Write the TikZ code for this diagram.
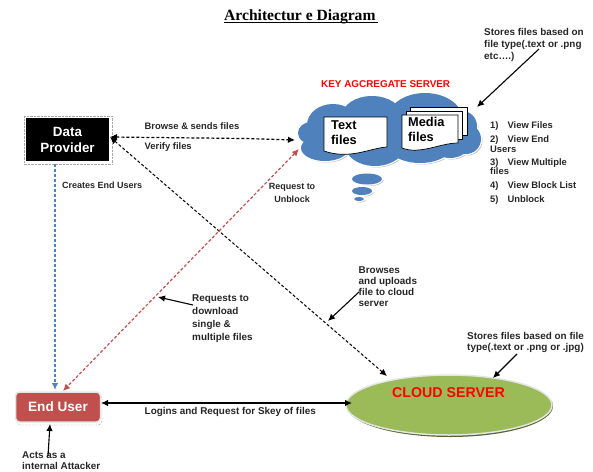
\documentclass[tikz,border=0pt]{standalone}
\usepackage{fontspec}
\setmainfont{Liberation Sans}
\newfontfamily\serifb{Liberation Serif}
\usetikzlibrary{arrows.meta,shapes.geometric}
\tikzset{
 x=1pt,y=-1pt,
 lbl/.style={font=\bfseries\fontsize{9.4}{9.6}\selectfont,text=black!85,align=left,inner sep=0pt,anchor=north west},
 big/.style={font=\bfseries\fontsize{12.8}{15}\selectfont,align=left,inner sep=0pt,anchor=north west},
 tip/.style={-{Latex[length=7pt,width=6.5pt]},line width=1.1pt},
 both/.style={{Latex[length=7pt,width=6.5pt]}-{Latex[length=7pt,width=6.5pt]}},
 doc/.style={draw=black,fill=white,line width=.7pt},
}
\definecolor{cloudblue}{RGB}{79,129,189}
\definecolor{ugreen}{RGB}{155,187,89}
\definecolor{ured}{RGB}{192,80,77}
\newcommand{\cloudparts}{
 (333,125) ellipse [x radius=26,y radius=21]
 (311,133) ellipse [x radius=13,y radius=11]
 (325,148) ellipse [x radius=24,y radius=13]
 (372,116) ellipse [x radius=30,y radius=20]
 (425,120) ellipse [x radius=38,y radius=27]
 (462,126) circle [radius=15]
 (466,139) circle [radius=15]
 (375,145) ellipse [x radius=30,y radius=21]
 (420,143) ellipse [x radius=34,y radius=20]
 (450,143) ellipse [x radius=20,y radius=15]
 (385,130) ellipse [x radius=70,y radius=25]
 (367,179) ellipse [x radius=15,y radius=5.5]
 (362,191) ellipse [x radius=10,y radius=4]
 (359,199) ellipse [x radius=5,y radius=2]
}
\begin{document}
\begin{tikzpicture}
\useasboundingbox (0,0) rectangle (593,471);
% title
\node[inner sep=0pt,anchor=base west,font=\serifb\bfseries\fontsize{15.6}{17}\selectfont] (title) at (224,20) {Architectur e Diagram};
\draw[line width=1pt] (224,22) -- (378,22);
% cloud
\fill[gray!55,shift={(1.5,1.5)}] \cloudparts;
\draw[white,line width=2.5pt] \cloudparts;
\fill[cloudblue] \cloudparts;
\node[inner sep=0pt,font=\bfseries\fontsize{9.9}{11}\selectfont,text=red,anchor=west] (kas) at (321,84.5) {KEY AGCREGATE SERVER};
% documents
\path[doc] (324,117) -- (387,117) -- (387,147) .. controls (370,148) and (350,160) .. (324,151) -- cycle;
\path[doc] (410,107) -- (467,107) -- (467,135) -- (410,135) -- cycle;
\path[doc] (406,111) -- (462,111) -- (462,139) -- (406,139) -- cycle;
\path[doc] (402,115) -- (458,115) -- (458,143) .. controls (440,143) and (420,155) .. (402,148) -- cycle;
\node[big] (textf) at (331,120) {Text\\files};
\node[big] (mediaf) at (408,117) {Media\\files};
% provider
\draw[gray!70,densely dotted,fill=white] (24,116) rectangle (112,164);
\node[fill=black,text=white,minimum width=83pt,minimum height=43pt,inner sep=0pt,align=center,font=\bfseries\fontsize{13.4}{16}\selectfont] (dp) at (67.5,139.5) {Data\\Provider};
% end user
\draw[ured!60!black,densely dotted,rounded corners=4pt] (17,395) rectangle (102,425);
\node[draw=white!90!black,line width=1.5pt,fill=ured,rounded corners=4pt,text=white,minimum width=85pt,minimum height=30pt,inner sep=0pt,font=\bfseries\fontsize{13.6}{15}\selectfont] (eu) at (58,407) {End User};
% cloud server
\fill[black!45!ugreen] (450,406) ellipse [x radius=103,y radius=31];
\node[ellipse,draw=white!90!black,line width=1.5pt,fill=ugreen,minimum width=206pt,minimum height=60pt,inner sep=0pt] (cs) at (449,405) {};
\node[inner sep=0pt,text=red,font=\bfseries\fontsize{14.2}{15}\selectfont] (cst) at (448.5,393) {CLOUD SERVER};
% anchors
\coordinate (cl) at (295,140);
\coordinate (clr) at (299,149);
\coordinate (a1) at (110,137);
\coordinate (b1) at (245,138.5);
\coordinate (a2) at (110,137);
\coordinate (b2) at (387,376);
\coordinate (r2) at (63,391);
\coordinate (u1) at (55,164);
\coordinate (u2) at (55,390);
% connectors
\draw[both,densely dashed,line width=1.2pt] (a1) -- (b1) -- (cl);
\draw[both,densely dashed,line width=1pt] (a2) -- (b2);
\draw[both,densely dashed,line width=1.2pt,ured] (clr) -- (r2);
\draw[-{Latex[length=7pt,width=6.5pt]},densely dashed,line width=1.2pt,cloudblue] (u1) -- (u2);
\draw[both,line width=1.2pt] (101,403) -- (352,403);
% labels
\node[lbl] (l1) at (144.5,122.5) {Browse \& sends files};
\node[lbl] (l2) at (144.5,142.5) {Verify files};
\node[lbl,font=\bfseries\fontsize{9}{10}\selectfont] (l3) at (62,182) {Creates End Users};
\node[lbl,font=\bfseries\fontsize{9}{13}\selectfont,align=center,anchor=north] (l4) at (292,183) {Request to\\Unblock};
\node[lbl,font=\bfseries\fontsize{9.9}{13.2}\selectfont] (l5) at (192,294) {Requests to\\download\\single \&\\multiple files};
\node[lbl,font=\bfseries\fontsize{9.9}{11.3}\selectfont] (l6) at (358.5,266) {Browses\\and uploads\\file to cloud\\server};
\node[lbl,font=\bfseries\fontsize{9.9}{11.3}\selectfont] (l7) at (467,332) {Stores files based on file\\type(.text or .png or .jpg)};
\node[lbl,font=\bfseries\fontsize{9.9}{11.6}\selectfont] (l8) at (484,28.5) {Stores files based on\\file type(.text or .png\\etc….)};
\node[lbl,font=\bfseries\fontsize{9.9}{11}\selectfont] (l9) at (144.5,407) {Logins and Request for Skey of files};
\node[lbl,font=\bfseries\fontsize{9.9}{11.8}\selectfont] (l10) at (22,451) {Acts as a\\internal Attacker};
\node[lbl] (m1) at (490,121.5) {1)\hspace{9pt}View Files};
\node[lbl] (m2) at (490,135.5) {2)\hspace{9pt}View End\\Users};
\node[lbl] (m3) at (490,158) {3)\hspace{9pt}View Multiple\\files};
\node[lbl] (m4) at (490,181) {4)\hspace{9pt}View Block List};
\node[lbl] (m5) at (490,195) {5)\hspace{9pt}Unblock};
% pointer arrows
\coordinate (p1a) at (539,49);  \coordinate (p1b) at (477,107);
\coordinate (p2a) at (359,292); \coordinate (p2b) at (328,321);
\coordinate (p3a) at (517,354); \coordinate (p3b) at (493,378);
\coordinate (p4a) at (193,305); \coordinate (p4b) at (158,297);
\coordinate (p5a) at (48,456);  \coordinate (p5b) at (50,424);
\draw[tip] (p1a) -- (p1b);
\draw[tip] (p2a) -- (p2b);
\draw[tip] (p3a) -- (p3b);
\draw[tip] (p4a) -- (p4b);
\draw[tip] (p5a) -- (p5b);
\end{tikzpicture}
\end{document}
